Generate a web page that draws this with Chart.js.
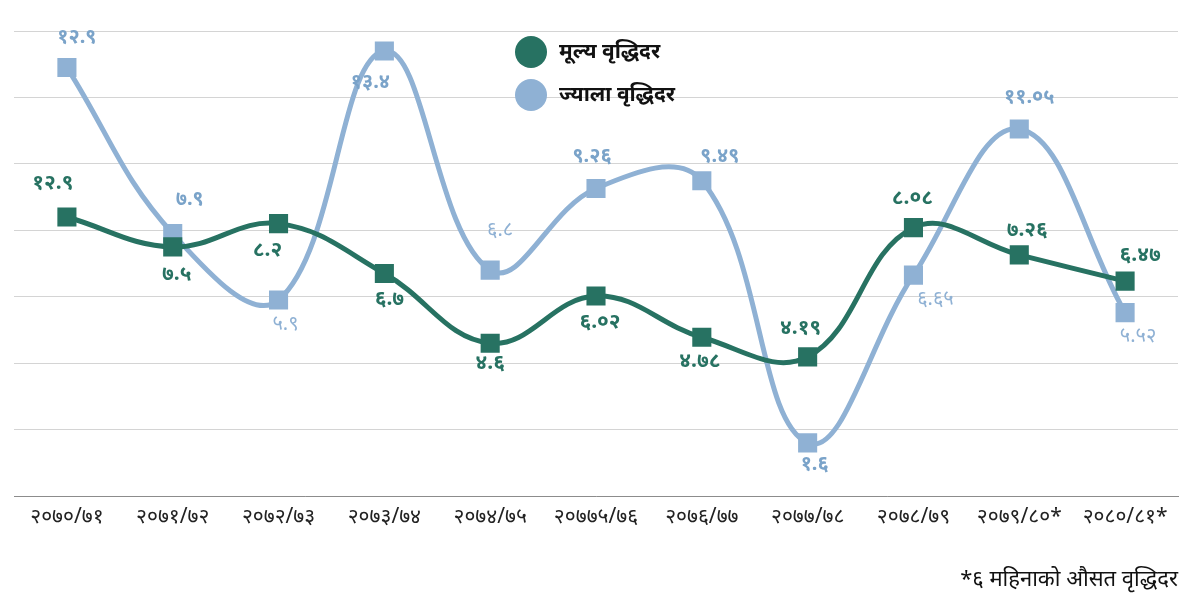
<!DOCTYPE html>
<html>
<head>
<meta charset="utf-8">
<script src="https://cdn.jsdelivr.net/npm/chart.js@4"></script>
<style>
  html, body { margin: 0; padding: 0; background: #fff; }
  #wrap { position: relative; width: 1200px; height: 600px; }
</style>
</head>
<body>
<div id="wrap"><canvas id="growthChart" width="1200" height="600"></canvas></div>
<script>
// Fiscal years (x axis)
const years = ['२०७०/७१', '२०७१/७२', '२०७२/७३', '२०७३/७४', '२०७४/७५', '२०७७५/७६',
    '२०७६/७७', '२०७७/७८', '२०७८/७९', '२०७९/८०*', '२०८०/८१*'];

// Price growth rate (मूल्य वृद्धिदर)
const priceGrowth = [8.4, 7.5, 8.2, 6.7, 4.6, 6.02, 4.78, 4.19, 8.08, 7.26, 6.47];
const priceLabels = ['१२.९', '७.५', '८.२', '६.७', '४.६', '६.०२', '४.७८', '४.१९', '८.०८', '७.२६', '६.४७'];

// Wage growth rate (ज्याला वृद्धिदर)
const wageGrowth = [12.9, 7.9, 5.9, 13.4, 6.8, 9.26, 9.49, 1.6, 6.65, 11.05, 5.52];
const wageLabels = ['१२.९', '७.९', '५.९', '१३.४', '६.८', '९.२६', '९.४९', '१.६', '६.६५', '११.०५', '५.५२'];

const seriesNames = ['मूल्य वृद्धिदर', 'ज्याला वृद्धिदर'];
const footnote = '*६ महिनाको औसत वृद्धिदर';

const GREEN = '#277262';
const BLUE = '#8fb1d4';
const FONT = "'Noto Sans', 'DejaVu Sans', sans-serif";

// label placement per point [dx, dy] relative to the marker
const priceLabelOffsets = [[-14, -34], [4, 27], [-11, 26], [5, 26], [0, 20], [4, 26], [-2, 24],
    [-7, -29], [-1, -30], [8, -25], [15, -26]];
const wageLabelOffsets = [[10, -30], [17, -34], [7, 24], [-14, 31], [10, -40], [-4, -32], [18, -24],
    [7, 21], [22, 24], [10, -32], [13, 24]];
// lighter / thinner labels on the wage series
const wageLabelLight = [false, false, true, false, true, false, false, false, true, false, true];

// Draw value labels next to each marker
const valueLabels = {
    id: 'valueLabels',
    afterDatasetsDraw(chart) {
        const ctx = chart.ctx;
        ctx.save();
        ctx.textAlign = 'center';
        ctx.textBaseline = 'middle';
        const metaP = chart.getDatasetMeta(0);
        metaP.data.forEach((pt, i) => {
            ctx.font = 'bold 21px ' + FONT;
            ctx.fillStyle = GREEN;
            ctx.fillText(priceLabels[i], pt.x + priceLabelOffsets[i][0], pt.y + priceLabelOffsets[i][1]);
        });
        const metaW = chart.getDatasetMeta(1);
        metaW.data.forEach((pt, i) => {
            ctx.font = (wageLabelLight[i] ? '' : 'bold ') + '20px ' + FONT;
            ctx.fillStyle = wageLabelLight[i] ? '#8fb1d4' : '#7aa3c9';
            ctx.fillText(wageLabels[i], pt.x + wageLabelOffsets[i][0], pt.y + wageLabelOffsets[i][1]);
        });
        ctx.restore();
    }
};

// Legend in the plot + footnote under the chart
const extras = {
    id: 'extras',
    afterDraw(chart) {
        const ctx = chart.ctx;
        ctx.save();
        const colors = [GREEN, BLUE];
        seriesNames.forEach((name, i) => {
            const y = 52 + i * 43;
            ctx.beginPath();
            ctx.fillStyle = colors[i];
            ctx.arc(531, y, 16, 0, Math.PI * 2);
            ctx.fill();
            ctx.fillStyle = '#111';
            ctx.font = 'bold 21px ' + FONT;
            ctx.textAlign = 'left';
            ctx.textBaseline = 'middle';
            ctx.fillText(name, 559, y);
        });
        ctx.font = '22px ' + FONT;
        ctx.fillStyle = '#111';
        ctx.textAlign = 'right';
        ctx.textBaseline = 'middle';
        ctx.fillText(footnote, 1178, 580);
        ctx.restore();
    }
};

const ctx = document.getElementById('growthChart').getContext('2d');
new Chart(ctx, {
    type: 'line',
    data: {
        labels: years,
        datasets: [{
            label: seriesNames[0],
            data: priceGrowth,
            borderColor: GREEN,
            backgroundColor: GREEN,
            borderWidth: 5,
            tension: 0.4,
            pointStyle: 'rect',
            pointRadius: 13.5,
            pointHoverRadius: 13.5,
            pointBorderWidth: 0
        }, {
            label: seriesNames[1],
            data: wageGrowth,
            borderColor: BLUE,
            backgroundColor: BLUE,
            borderWidth: 5,
            tension: 0.4,
            pointStyle: 'rect',
            pointRadius: 13.5,
            pointHoverRadius: 13.5,
            pointBorderWidth: 0
        }]
    },
    options: {
        responsive: false,
        animation: false,
        layout: { padding: { left: 14, right: 22, top: 31, bottom: 64 } },
        plugins: {
            legend: { display: false },
            tooltip: { enabled: false }
        },
        scales: {
            x: {
                offset: true,
                afterFit(scale) { scale.height = 40; },
                grid: { display: false, drawTicks: false },
                border: { color: '#8c8c8c', width: 1 },
                ticks: {
                    color: '#222',
                    font: { family: FONT, size: 21 },
                    padding: 8,
                    maxRotation: 0,
                    autoSkip: false
                }
            },
            y: {
                min: 0,
                max: 14,
                grid: { color: '#d4d4d4', lineWidth: 1, drawTicks: false },
                border: { display: false },
                ticks: { display: false, stepSize: 2 }
            }
        }
    },
    plugins: [valueLabels, extras]
});
</script>
</body>
</html>
